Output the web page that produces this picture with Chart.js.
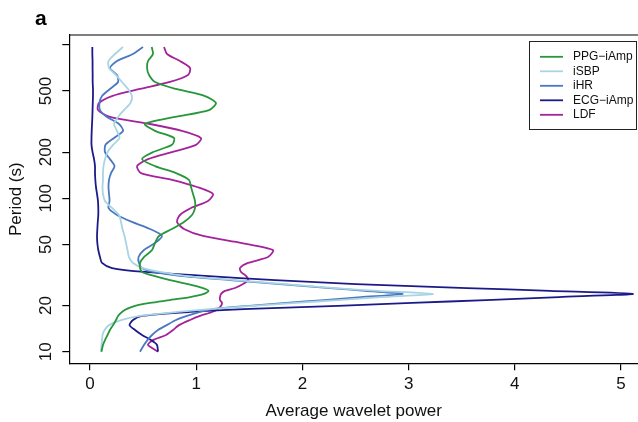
<!DOCTYPE html>
<html>
<head>
<meta charset="utf-8">
<script src="https://cdn.jsdelivr.net/npm/chart.js@4.4.1/dist/chart.umd.min.js"></script>
<style>
  html, body { margin: 0; padding: 0; background: #fff; overflow: hidden; }
  #wrap { width: 638px; height: 422px; position: relative; }
</style>
</head>
<body>
<div id="wrap"><canvas id="chart" width="638" height="422"></canvas></div>
<script>
// --- Data (period in s, average wavelet power per series) ---
const periods = [969, 872, 785, 707, 636, 573, 516, 464, 418, 376,
    339, 305, 275, 247, 223, 200, 180, 162, 146, 132,
    118.5, 106.7, 96.0, 86.5, 77.8, 70.1, 63.1, 56.8, 51.1, 46.0,
    41.4, 37.9, 35.1, 33.1, 31.2, 29.3, 27.6, 26.0, 24.9, 23.8,
    22.7, 21.7, 20.8, 19.9, 19.0, 18.15, 17.1, 16.1, 14.9, 13.85,
    12.85, 11.9, 11.06, 10];

const ppgAmp = [0.581, 0.593, 0.546, 0.537, 0.556, 0.612, 0.810, 1.083, 1.186, 1.121,
    0.800, 0.518, 0.612, 0.791, 0.772, 0.593, 0.490, 0.612, 0.810, 0.932,
    0.951, 0.970, 0.989, 0.989, 0.960, 0.885, 0.772, 0.650, 0.612, 0.584,
    0.508, 0.471, 0.471, 0.490, 0.603, 0.753, 0.923, 1.064, 1.116, 1.073,
    0.942, 0.753, 0.565, 0.424, 0.348, 0.301, 0.264, 0.245, 0.217, 0.188,
    0.165, 0.141, 0.122, 0.108];

const isbp = [0.311, 0.235, 0.174, 0.179, 0.245, 0.301, 0.358, 0.395, 0.381, 0.320,
    0.264, 0.226, 0.254, 0.278, 0.217, 0.165, 0.141, 0.127, 0.122, 0.122,
    0.118, 0.122, 0.141, 0.207, 0.273, 0.292, 0.306, 0.325, 0.339, 0.353,
    0.367, 0.405, 0.499, 0.659, 0.895, 1.365, 1.836, 2.307, 2.712, 3.230,
    2.740, 2.335, 1.940, 1.535, 1.149, 0.829, 0.471, 0.301, 0.179, 0.137,
    0.118, 0.113, 0.108, 0.104];

const ihr = [0.499, 0.405, 0.254, 0.188, 0.254, 0.264, 0.188, 0.113, 0.089, 0.094,
    0.160, 0.273, 0.311, 0.226, 0.146, 0.141, 0.188, 0.231, 0.198, 0.179,
    0.174, 0.179, 0.184, 0.174, 0.254, 0.395, 0.565, 0.678, 0.612, 0.508,
    0.457, 0.461, 0.490, 0.593, 0.847, 1.318, 1.789, 2.260, 2.589, 2.944,
    2.552, 2.203, 1.846, 1.497, 1.168, 1.036, 0.913, 0.810, 0.722, 0.640,
    0.584, 0.541, 0.508, 0.471];

const ecgAmp = [0.022, 0.022, 0.024, 0.024, 0.025, 0.025, 0.028, 0.028, 0.026, 0.024,
    0.022, 0.019, 0.016, 0.014, 0.014, 0.024, 0.038, 0.047, 0.047, 0.050,
    0.056, 0.066, 0.075, 0.078, 0.078, 0.073, 0.069, 0.066, 0.069, 0.078,
    0.094, 0.113, 0.207, 0.518, 1.083, 1.742, 2.505, 3.550, 4.331, 5.113,
    4.416, 3.729, 3.032, 2.335, 1.507, 0.942, 0.490, 0.405, 0.372, 0.424,
    0.490, 0.574, 0.631, 0.640];

const ldf = [0.697, 0.725, 0.847, 0.942, 0.923, 0.753, 0.471, 0.207, 0.085, 0.075,
    0.188, 0.565, 0.866, 1.045, 0.998, 0.772, 0.546, 0.443, 0.480, 0.772,
    1.008, 1.158, 1.111, 0.951, 0.847, 0.819, 0.885, 1.064, 1.431, 1.723,
    1.676, 1.488, 1.412, 1.422, 1.469, 1.488, 1.441, 1.365, 1.271, 1.234,
    1.224, 1.224, 1.243, 1.234, 1.205, 1.149, 1.036, 0.942, 0.838, 0.782,
    0.716, 0.593, 0.546, 0.640];

const seriesNames = ['PPG\u2212iAmp', 'iSBP', 'iHR', 'ECG\u2212iAmp', 'LDF'];
const seriesValues = [ppgAmp, isbp, ihr, ecgAmp, ldf];
const seriesColors = ['#27973a', '#a9d4e3', '#4a78c2', '#1c1a88', '#a3239b'];

const xTicks = [0, 1, 2, 3, 4, 5];
const yTicks = [10, 20, 50, 100, 200, 500, 1000];
const yLabelled = [10, 20, 50, 100, 200, 500];

const FONT = '"Liberation Sans", Arial, Helvetica, sans-serif';

// --- Extra drawing: top frame line, panel letter, boxed legend ---
const framePlugin = {
    id: 'frame',
    afterDraw(chart) {
        const ctx = chart.ctx;
        const a = chart.chartArea;
        ctx.save();
        ctx.strokeStyle = '#000';
        ctx.lineWidth = 1.2;
        ctx.beginPath();
        ctx.moveTo(a.left, a.top);
        ctx.lineTo(a.right + 5, a.top);
        ctx.stroke();

        // panel letter
        ctx.fillStyle = '#000';
        ctx.font = 'bold 21px ' + FONT;
        ctx.textBaseline = 'alphabetic';
        ctx.textAlign = 'left';
        ctx.fillText('a', 35, 25);

        // legend box
        ctx.lineWidth = 1;
        ctx.strokeStyle = '#222';
        ctx.strokeRect(529.5, 41.5, 107, 88);
        ctx.font = '12px ' + FONT;
        ctx.textBaseline = 'middle';
        chart.data.datasets.forEach((ds, i) => {
            const y = 56.8 + i * 14.5;
            ctx.strokeStyle = ds.borderColor;
            ctx.lineWidth = 1.8;
            ctx.beginPath();
            ctx.moveTo(540, y);
            ctx.lineTo(563, y);
            ctx.stroke();
            ctx.fillStyle = '#111';
            ctx.fillText(ds.label, 573, y);
        });
        ctx.restore();
    }
};

new Chart(document.getElementById('chart'), {
    type: 'scatter',
    data: {
        datasets: seriesNames.map((name, s) => ({
            label: name,
            data: periods.map((p, i) => ({ x: seriesValues[s][i], y: p })),
            borderColor: seriesColors[s],
            backgroundColor: seriesColors[s],
            borderWidth: 1.8,
            showLine: true,
            pointRadius: 0,
            tension: 0.25,
            fill: false
        }))
    },
    options: {
        responsive: false,
        animation: false,
        devicePixelRatio: 1,
        layout: { padding: { top: 35, left: 0, right: 0, bottom: 0 } },
        plugins: { legend: { display: false }, tooltip: { enabled: false } },
        scales: {
            x: {
                type: 'linear',
                min: -0.195,
                max: 5.16,
                afterFit: (scale) => { scale.height = 58.7; },
                afterBuildTicks: (scale) => { scale.ticks = xTicks.map(v => ({ value: v })); },
                grid: { drawOnChartArea: false, drawTicks: true, tickLength: 7, color: '#000', lineWidth: 1.2 },
                border: { display: true, color: '#000', width: 1.2 },
                ticks: {
                    padding: 4,
                    color: '#111',
                    autoSkip: false,
                    maxRotation: 0,
                    font: { family: FONT, size: 17, lineHeight: 1.2 },
                    callback: (v) => String(v)
                },
                title: {
                    display: true,
                    text: 'Average wavelet power',
                    color: '#111',
                    font: { family: FONT, size: 17, lineHeight: 1.2 },
                    padding: { top: 0, bottom: 0 }
                }
            },
            y: {
                type: 'logarithmic',
                min: 8.4,
                max: 1160,
                afterFit: (scale) => { scale.width = 69.3; },
                afterBuildTicks: (scale) => { scale.ticks = yTicks.map(v => ({ value: v })); },
                grid: { drawOnChartArea: false, drawTicks: true, tickLength: 7, color: '#000', lineWidth: 1.2 },
                border: { display: true, color: '#000', width: 1.2 },
                ticks: {
                    padding: 2.3,
                    color: '#111',
                    autoSkip: false,
                    minRotation: 90,
                    maxRotation: 90,
                    crossAlign: 'center',
                    font: { family: FONT, size: 17, lineHeight: 1.2 },
                    callback: (v) => yLabelled.includes(v) ? String(v) : ''
                },
                title: {
                    display: true,
                    text: 'Period (s)',
                    color: '#111',
                    font: { family: FONT, size: 17, lineHeight: 1.2 },
                    padding: { top: 6, bottom: 0 }
                }
            }
        }
    },
    plugins: [framePlugin]
});
</script>
</body>
</html>
